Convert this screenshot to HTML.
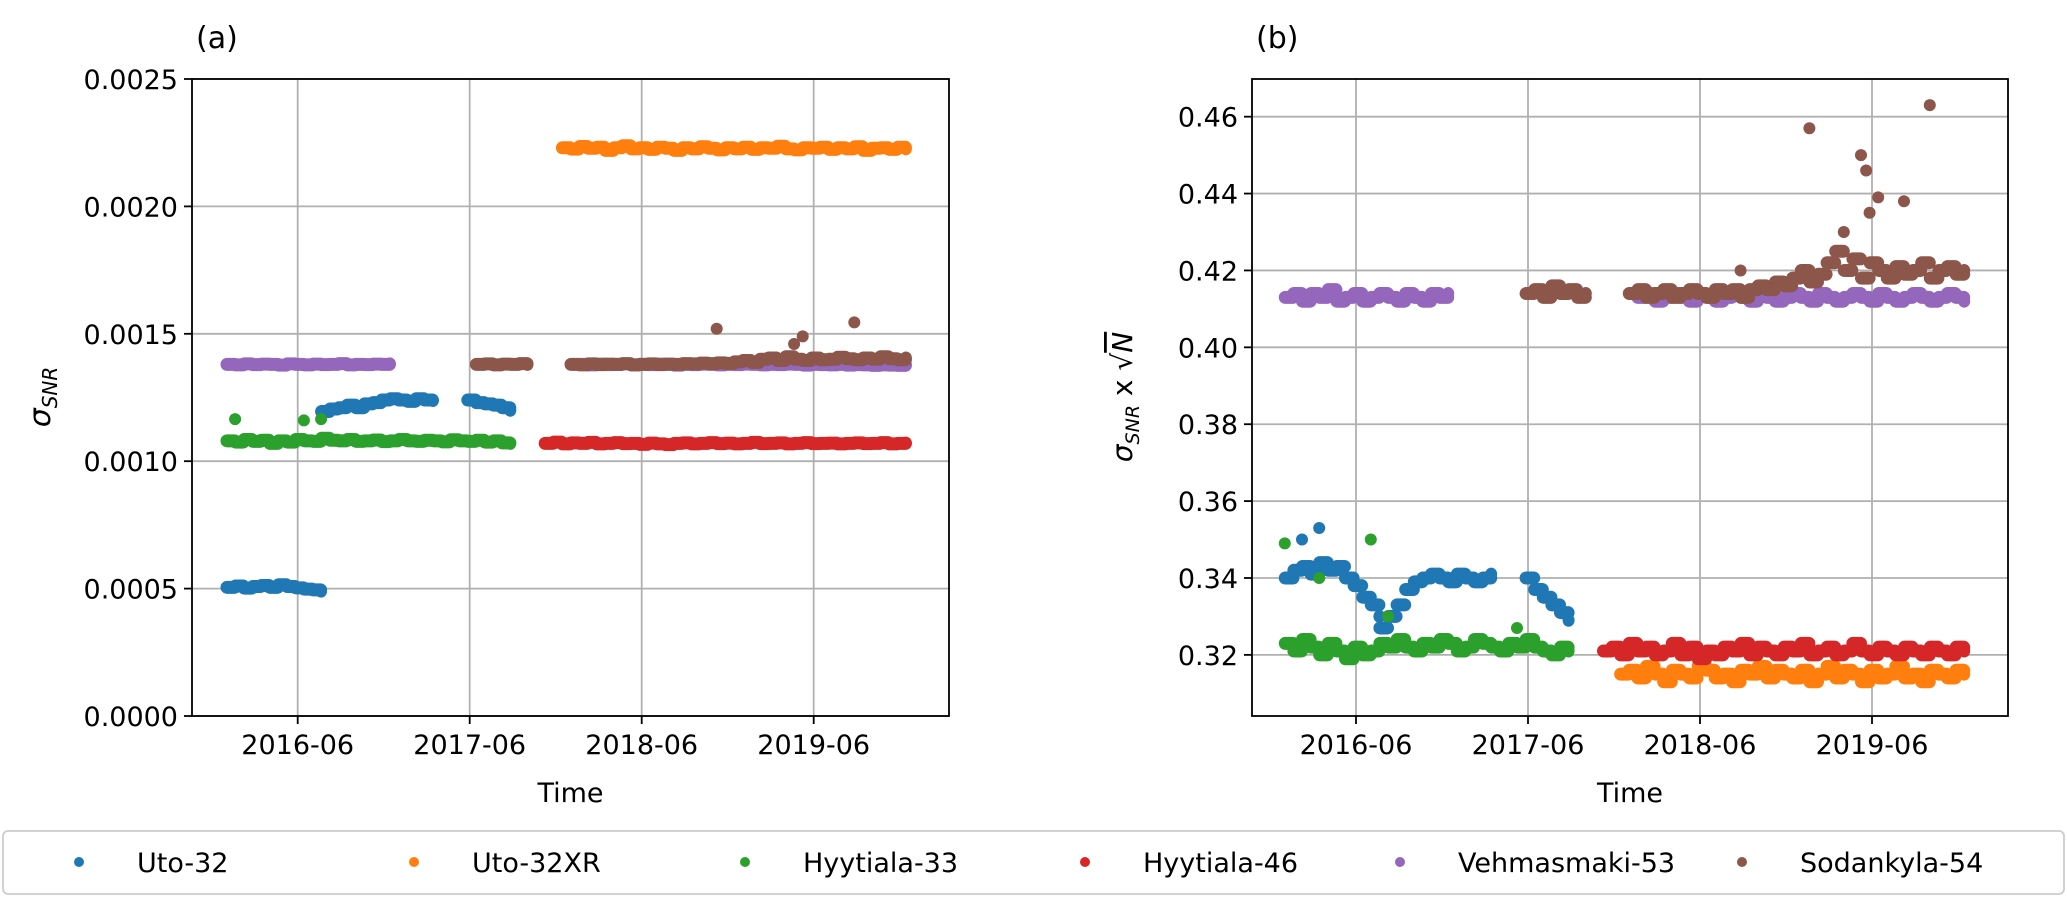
<!DOCTYPE html>
<html><head><meta charset="utf-8"><style>
body{margin:0;background:#fff;}
svg{display:block;font-family:"DejaVu Sans","Liberation Sans",sans-serif;}
</style></head><body>
<svg id="fig" width="2067" height="909" viewBox="0 0 2067 909" xmlns="http://www.w3.org/2000/svg"></svg>
<script>
// ---- data (time as fractional year, step 0.05 yr from start) ----
const stationNames = ["Uto-32","Uto-32XR","Hyytiala-33","Hyytiala-46","Vehmasmaki-53","Sodankyla-54"];
const stationColors = ["#1f77b4","#ff7f0e","#2ca02c","#d62728","#9467bd","#8c564b"];
const xTickLabels = ["2016-06","2017-06","2018-06","2019-06"];
const xTickYears = [2016.414,2017.414,2018.414,2019.414];
const aTickValues = [0,0.5,1.0,1.5,2.0,2.5]; // units of 1e-3
const aTickLabels = ["0.0000","0.0005","0.0010","0.0015","0.0020","0.0025"];
const bTickValues = [0.32,0.34,0.36,0.38,0.40,0.42,0.44,0.46];
const bTickLabels = ["0.32","0.34","0.36","0.38","0.40","0.42","0.44","0.46"];
const STEP = 0.05;
// panel (a) segments, sigma in 1e-3
const aUto32 = [
 {start:2016.0, vals:[0.505,0.51,0.502,0.508,0.512,0.505,0.515,0.508,0.503,0.498,0.495,0.49]},
 {start:2016.55, vals:[1.195,1.205,1.21,1.22,1.21,1.225,1.23,1.24,1.245,1.24,1.235,1.245,1.24,1.238]},
 {start:2017.4, vals:[1.24,1.23,1.225,1.22,1.21,1.2]}];
const aUto32XR = [{start:2017.95, vals:[2.23,2.225,2.235,2.228,2.232,2.22,2.23,2.238,2.226,2.23,2.224,2.232,2.228,2.22,2.23,2.226,2.234,2.228,2.222,2.23,2.226,2.232,2.224,2.23,2.228,2.236,2.226,2.222,2.23,2.228,2.232,2.224,2.23,2.226,2.234,2.22,2.228,2.23,2.224,2.232,2.226]}];
const aHyy33 = [{start:2016.0, vals:[1.08,1.075,1.085,1.078,1.082,1.07,1.08,1.075,1.085,1.08,1.078,1.09,1.082,1.08,1.085,1.078,1.08,1.083,1.077,1.08,1.085,1.08,1.078,1.082,1.08,1.076,1.084,1.08,1.078,1.082,1.075,1.08,1.072,1.07]}];
const aHyy33Out = [[2016.05,1.165],[2016.45,1.16],[2016.55,1.165]];
const aHyy46 = [{start:2017.85, vals:[1.07,1.075,1.068,1.072,1.07,1.074,1.068,1.07,1.073,1.069,1.07,1.066,1.071,1.068,1.065,1.07,1.072,1.068,1.07,1.073,1.069,1.071,1.068,1.07,1.074,1.069,1.07,1.072,1.068,1.07,1.073,1.069,1.07,1.071,1.068,1.07,1.072,1.069,1.07,1.073,1.068,1.07,1.071]}];
const aVeh53 = [
 {start:2016.0, vals:[1.38,1.378,1.382,1.379,1.381,1.38,1.377,1.382,1.38,1.378,1.381,1.379,1.38,1.383,1.378,1.38,1.379,1.381,1.38,1.382]},
 {start:2018.05, vals:[1.38,1.378,1.381,1.379,1.38,1.382,1.378,1.38,1.379,1.381,1.38,1.377,1.38,1.379,1.381,1.38,1.378,1.38,1.379,1.381,1.38,1.378,1.38,1.379,1.381,1.38,1.377,1.38,1.379,1.378,1.38,1.377,1.379,1.378,1.376,1.378,1.377,1.376,1.378]}];
const aSod54 = [
 {start:2017.45, vals:[1.38,1.382,1.378,1.381,1.38,1.383,1.38]},
 {start:2018.0, vals:[1.38,1.378,1.382,1.379,1.381,1.38,1.383,1.378,1.38,1.382,1.379,1.381,1.38,1.383,1.382,1.385,1.383,1.386,1.384,1.39,1.395,1.388,1.4,1.405,1.395,1.41,1.4,1.395,1.405,1.398,1.4,1.408,1.402,1.398,1.405,1.4,1.41,1.402,1.398,1.405]}];
const aSod54Out = [[2018.85,1.52],[2019.3,1.46],[2019.35,1.49],[2019.65,1.545]];
// panel (b) sigma*sqrt(N)
const bUto32 = [
 {start:2016.0, vals:[0.34,0.342,0.343,0.341,0.344,0.342,0.343,0.34,0.338,0.335,0.333,0.33]},
 {start:2016.55, vals:[0.327,0.33,0.333,0.337,0.339,0.34,0.341,0.34,0.339,0.341,0.34,0.339,0.34,0.341]},
 {start:2017.4, vals:[0.34,0.337,0.335,0.333,0.331,0.329]}];
const bUto32Out = [[2016.1,0.35],[2016.2,0.353]];
const bUto32XR = [{start:2017.95, vals:[0.315,0.316,0.314,0.317,0.315,0.313,0.316,0.315,0.314,0.317,0.316,0.314,0.315,0.313,0.316,0.315,0.317,0.314,0.316,0.315,0.314,0.316,0.313,0.315,0.317,0.314,0.316,0.315,0.313,0.316,0.314,0.315,0.317,0.314,0.315,0.313,0.316,0.315,0.314,0.316,0.315]}];
const bHyy33 = [{start:2016.0, vals:[0.323,0.321,0.324,0.322,0.32,0.323,0.321,0.319,0.322,0.32,0.321,0.323,0.322,0.324,0.322,0.321,0.323,0.322,0.324,0.323,0.321,0.322,0.324,0.323,0.322,0.321,0.323,0.322,0.324,0.322,0.321,0.32,0.322,0.321]}];
const bHyy33Out = [[2016.0,0.349],[2016.2,0.34],[2016.5,0.35],[2016.6,0.33],[2017.35,0.327]];
const bHyy46 = [{start:2017.85, vals:[0.321,0.322,0.32,0.323,0.321,0.322,0.32,0.321,0.323,0.32,0.322,0.319,0.321,0.32,0.322,0.321,0.323,0.32,0.322,0.321,0.32,0.322,0.321,0.323,0.32,0.321,0.322,0.32,0.321,0.323,0.321,0.32,0.322,0.321,0.32,0.322,0.321,0.32,0.322,0.321,0.32,0.322,0.321]}];
const bVeh53 = [
 {start:2016.0, vals:[0.413,0.414,0.412,0.414,0.413,0.415,0.412,0.413,0.414,0.412,0.413,0.414,0.413,0.412,0.414,0.413,0.412,0.414,0.413,0.414]},
 {start:2018.05, vals:[0.413,0.414,0.412,0.413,0.414,0.413,0.412,0.414,0.413,0.412,0.413,0.414,0.413,0.412,0.414,0.413,0.412,0.413,0.414,0.413,0.412,0.414,0.413,0.412,0.413,0.414,0.413,0.412,0.414,0.413,0.412,0.413,0.414,0.413,0.412,0.413,0.414,0.413,0.412]}];
const bSod54 = [
 {start:2017.4, vals:[0.414,0.415,0.413,0.416,0.414,0.415,0.413,0.414]},
 {start:2018.0, vals:[0.414,0.415,0.413,0.414,0.415,0.413,0.414,0.415,0.414,0.413,0.415,0.414,0.415,0.413,0.415,0.416,0.415,0.417,0.416,0.418,0.42,0.417,0.419,0.422,0.425,0.42,0.423,0.418,0.422,0.42,0.418,0.421,0.419,0.42,0.422,0.418,0.42,0.421,0.419,0.42]}];
const bSod54Out = [[2018.65,0.42],[2019.05,0.457],[2019.25,0.43],[2019.35,0.45],[2019.38,0.446],[2019.4,0.435],[2019.45,0.439],[2019.6,0.438],[2019.75,0.463]];

const NS="http://www.w3.org/2000/svg";
const svg=document.getElementById('fig');
function el(tag,attrs,parent){const e=document.createElementNS(NS,tag);for(const k in attrs)e.setAttribute(k,attrs[k]);(parent||svg).appendChild(e);return e;}
function panel(cfg){
  const g=el('g',{});
  
  
  const L=cfg.left,R=cfg.right,T=79,B=716;
  const xs=t=>cfg.x0+(t-2016.414)*172;
  const ys=v=>B-(v-cfg.ymin)/(cfg.ymax-cfg.ymin)*(B-T);
  const segW=STEP*172;
  xTickYears.forEach((t,i)=>{
    const x=xs(t);
    const gl=el('line',{x1:x,x2:x,y1:T,y2:B,stroke:'#b0b0b0','stroke-width':1.8},g);
    
    
    el('line',{x1:x,x2:x,y1:B,y2:B+8,stroke:'#000','stroke-width':1.8},g);
    const tx=el('text',{x:x,y:B+38,'font-size':27,'text-anchor':'middle'},g);tx.textContent=xTickLabels[i];
    
    
  });
  cfg.ticks.forEach((v,i)=>{
    const y=ys(v);
    const gl=el('line',{x1:L,x2:R,y1:y,y2:y,stroke:'#b0b0b0','stroke-width':1.8},g);
    
    
    el('line',{x1:L-8,x2:L,y1:y,y2:y,stroke:'#000','stroke-width':1.8},g);
    const tx=el('text',{x:L-14,y:y+10,'font-size':27,'text-anchor':'end'},g);tx.textContent=cfg.tickLabels[i];
    
    
  });
  cfg.series.forEach((s,si)=>{
    const sg=el('g',{fill:stationColors[si]},g);
    
    
    s.segs.forEach(seg=>seg.vals.forEach((v,i)=>{
      const cx=xs(seg.start+i*STEP), cy=ys(v);
      const c=el('rect',{x:cx-6,y:cy-6.5,width:(i<seg.vals.length-1?segW:0)+12,height:13,rx:6.5},sg);
      
      
    }));
    (s.out||[]).forEach(p=>{
      const c=el('circle',{cx:xs(p[0]),cy:ys(p[1]),r:6},sg);
      
      
    });
  });
  const fr=el('rect',{x:L,y:T,width:R-L,height:B-T,fill:'none',stroke:'#000','stroke-width':1.8},g);
  
  
  const tl=el('text',{x:L+4,y:48,'font-size':30},g);tl.textContent=cfg.title;
  
  
  const xl=el('text',{x:(L+R)/2,y:802,'font-size':27,'text-anchor':'middle'},g);xl.textContent='Time';
  
  
  return g;
}
panel({name:'panel-a',title:'(a)',left:192,right:949,x0:297.7,ymin:0,ymax:2.5,ticks:aTickValues,tickLabels:aTickLabels,
  series:[{segs:aUto32},{segs:aUto32XR},{segs:aHyy33,out:aHyy33Out},{segs:aHyy46},{segs:aVeh53},{segs:aSod54,out:aSod54Out}]});
panel({name:'panel-b',title:'(b)',left:1252,right:2008,x0:1356,ymin:0.3041,ymax:0.4698,ticks:bTickValues,tickLabels:bTickLabels,
  series:[{segs:bUto32,out:bUto32Out},{segs:bUto32XR},{segs:bHyy33,out:bHyy33Out},{segs:bHyy46},{segs:bVeh53},{segs:bSod54,out:bSod54Out}]});
let ya=el('text',{transform:'translate(50,397) rotate(-90)','font-size':30,'text-anchor':'middle','font-style':'italic'});
ya.innerHTML='σ<tspan font-size="20" dy="7">SNR</tspan>';


let yb=el('text',{transform:'translate(1132,397) rotate(-90)','font-size':28,'text-anchor':'middle'});
yb.innerHTML='<tspan font-style="italic">σ</tspan><tspan font-size="19" dy="7" font-style="italic">SNR</tspan><tspan dy="-7"> x √</tspan><tspan font-style="italic" text-decoration="overline">N</tspan>';


const lg=el('g',{});


el('rect',{x:3,y:831,width:2061,height:63,rx:5,fill:'#fff',stroke:'#ccc','stroke-width':1.8},lg);
const legX=[79,414,745,1085,1400,1742];
stationNames.forEach((n,i)=>{
  const e=el('g',{},lg);
  
  
  el('circle',{cx:legX[i],cy:862,r:5,fill:stationColors[i]},e);
  const t=el('text',{x:legX[i]+58,y:872,'font-size':27},e);t.textContent=n;
});
</script>
</body></html>
